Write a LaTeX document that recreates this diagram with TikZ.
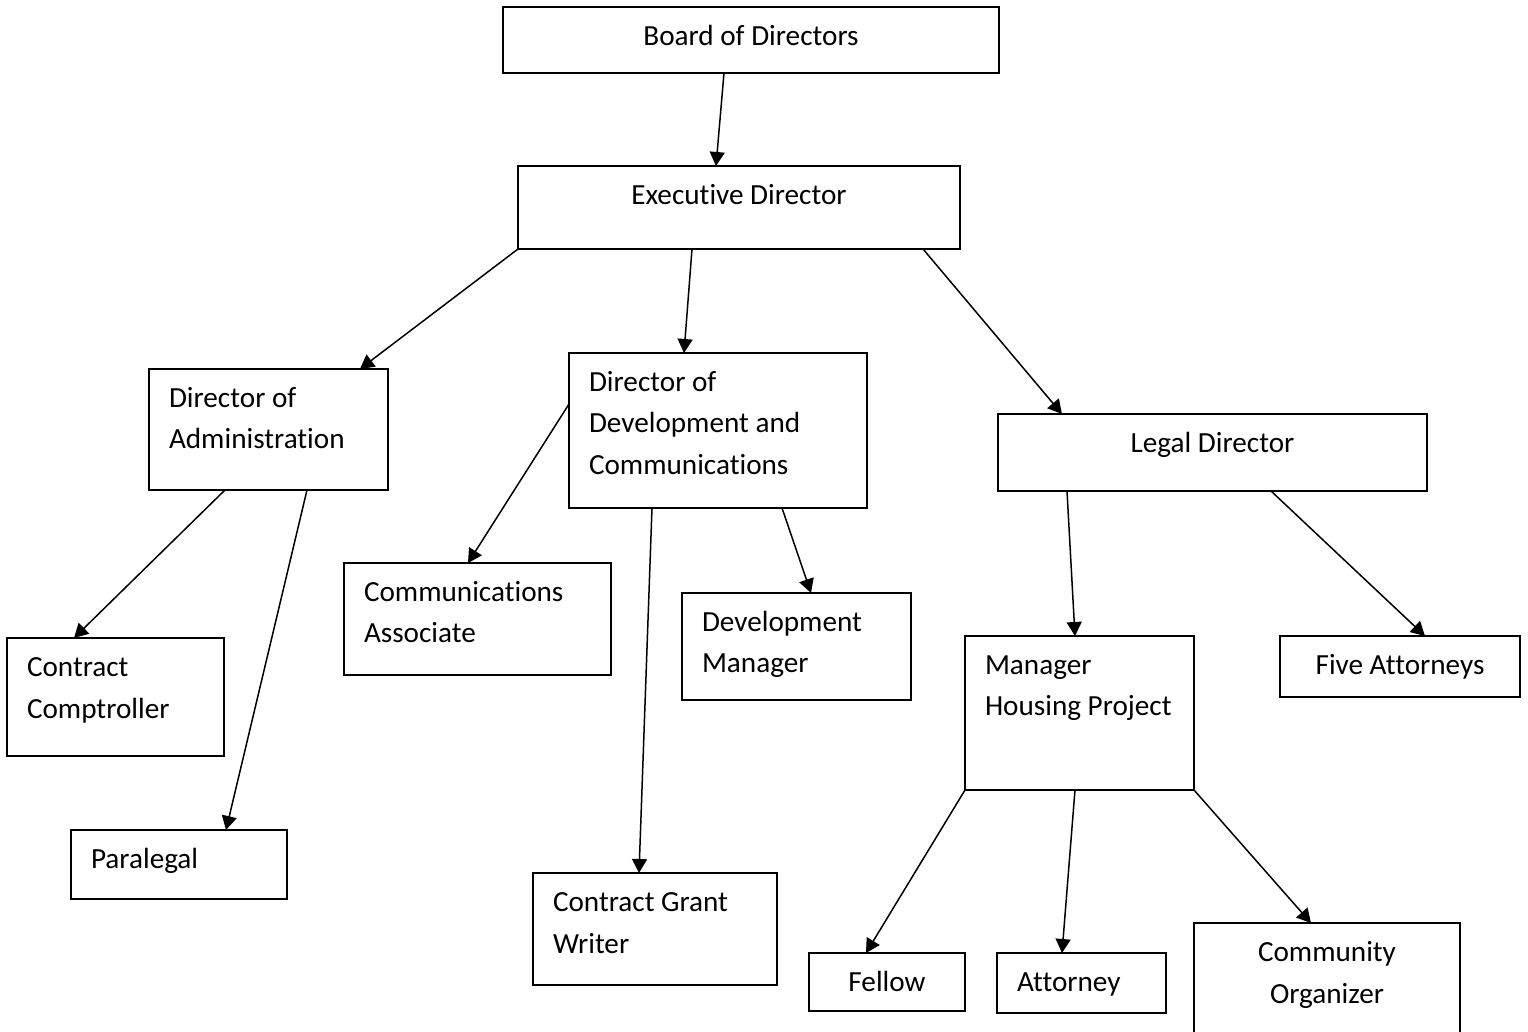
\documentclass[tikz,border=0pt]{standalone}
\usepackage{fontspec}
\setmainfont{Carlito}[Ligatures=NoCommon]
\usetikzlibrary{arrows.meta}
\tikzset{
  orgbox/.style={draw=black, line width=1pt, rectangle, anchor=north west, outer sep=0pt,
    inner xsep=10pt, inner ysep=0pt, text height=19.25pt, align=left,
    font=\fontsize{14.6}{20.75}\selectfont,
    execute at begin node={\spaceskip=0.226em\relax}},
  midbox/.style={orgbox, align=center},
  reportline/.style={black, line width=0.75pt, -{Triangle[length=7pt,width=7.5pt]}}
}

\begin{document}
\begin{tikzpicture}[x=0.5pt, y=-0.5pt]
  \useasboundingbox[fill=white] (0,0) rectangle (1528,1032);
  % top levels
  \node[midbox, text width=228pt, text depth=13.75pt] (board) at (503,7) {Board of Directors};
  \node[midbox, text width=201pt, text depth=22.25pt] (ed) at (518,166) {Executive Director};
  \node[orgbox, text width=99.5pt, text depth=41.25pt] (doa) at (149,369) {Director of\\Administration};
  \node[orgbox, text width=129pt, text depth=58.25pt] (ddc) at (569,353) {Director of\\Development and\\Communications};
  \node[midbox, text width=194.5pt, text depth=19.25pt] (legal) at (998,414) {Legal Director};
  % staff
  \node[orgbox, text width=88.5pt, text depth=39.75pt] (cc) at (7,638) {Contract\\Comptroller};
  \node[orgbox, text width=88pt, text depth=15.25pt] (para) at (71,830) {Paralegal};
  \node[orgbox, text width=113.5pt, text depth=36.75pt] (ca) at (344,563) {Communications\\Associate};
  \node[orgbox, text width=94.5pt, text depth=34.25pt] (dm) at (682,593) {Development\\Manager};
  \node[orgbox, text width=102pt, text depth=36.75pt] (cgw) at (533,873) {Contract Grant\\Writer};
  \node[orgbox, text width=94.5pt, text depth=57.75pt] (mhp) at (965,636) {Manager\\Housing~Project};
  \node[midbox, text width=100pt, text depth=11.25pt] (five) at (1280,636) {Five Attorneys};
  \node[midbox, text width=58pt, text depth=9.75pt] (fellow) at (809,953) {Fellow};
  \node[orgbox, text width=64.5pt, text depth=10.75pt] (atty) at (997,953) {Attorney};
  \node[midbox, text width=113pt, text depth=55pt] (co) at (1194,923) {Community\\Organizer};
  % reporting lines
  \draw[reportline] (724,0 |- board.south) -- (716,0 |- ed.north);
  \draw[reportline] (ed.south west) -- (360,0 |- doa.north);
  \draw[reportline] (692,0 |- ed.south) -- (684,0 |- ddc.north);
  \draw[reportline] (923,0 |- ed.south) -- (1062,0 |- legal.north);
  \draw[reportline] (225,0 |- doa.south) -- (74,0 |- cc.north);
  \draw[reportline] (307,0 |- doa.south) -- (226,0 |- para.north);
  \draw[reportline] (ddc.west |- 0,404) -- (468,0 |- ca.north);
  \draw[reportline] (652,0 |- ddc.south) -- (639,0 |- cgw.north);
  \draw[reportline] (782,0 |- ddc.south) -- (811,0 |- dm.north);
  \draw[reportline] (1067,0 |- legal.south) -- (1075,0 |- mhp.north);
  \draw[reportline] (1271,0 |- legal.south) -- (1425,0 |- five.north);
  \draw[reportline] (mhp.south west) -- (866,0 |- fellow.north);
  \draw[reportline] (1075,0 |- mhp.south) -- (1062,0 |- atty.north);
  \draw[reportline] (mhp.south east) -- (1311,0 |- co.north);
\end{tikzpicture}
\end{document}
